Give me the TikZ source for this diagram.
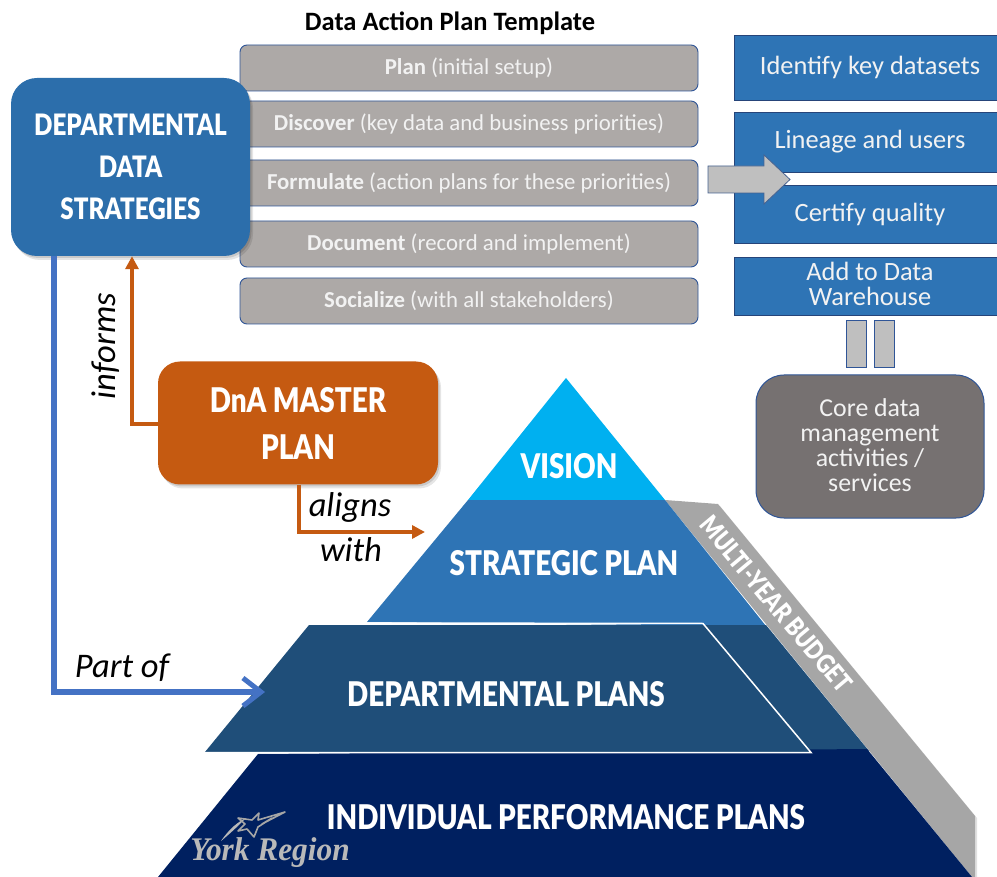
\documentclass[tikz,border=0pt]{standalone}
\usepackage{fontspec}
\setmainfont{Carlito}
\newfontfamily\hd[FakeStretch=0.82]{Lato Black}
\newfontfamily\logofont[FakeStretch=0.95]{Liberation Serif}
\usetikzlibrary{arrows.meta}
\definecolor{gbox}{HTML}{ADA9A7}
\definecolor{gline}{HTML}{2F5597}
\definecolor{bbox}{HTML}{2E74B5}
\definecolor{dbox}{HTML}{2C6EAB}
\definecolor{obox}{HTML}{C55A11}
\definecolor{cbox}{HTML}{767171}
\definecolor{lblue}{HTML}{4472C4}
\definecolor{pv}{HTML}{00B0F0}
\definecolor{ps}{HTML}{2E74B5}
\definecolor{pd}{HTML}{1F4E79}
\definecolor{pi}{HTML}{002060}
\definecolor{band}{HTML}{A6A6A6}
\definecolor{sarrow}{HTML}{BFBFBF}
\definecolor{softw}{HTML}{F2F2F2}
\tikzset{
  softshadow/.style={preaction={draw=none,fill=black,opacity=.10,transform canvas={shift={(3pt,-4pt)}}},
                     preaction={draw=none,fill=black,opacity=.12,transform canvas={shift={(1.5pt,-2pt)}}}},
  plan/.style={draw=gline,line width=.9pt,fill=gbox,rounded corners=7pt,minimum width=458pt,minimum height=46pt,inner sep=0pt,text=softw,font=\fontsize{22.8}{25}\selectfont},
  rect/.style={draw=gline!80!black,line width=.7pt,fill=bbox,minimum width=272pt,inner sep=0pt,text=softw,align=center,font=\fontsize{26.4}{25}\selectfont},
  bigbox/.style={fill=#1,rounded corners=24pt,inner sep=0pt,text=white,align=center,softshadow},
  pillar/.style={draw=gline,line width=1pt,fill=sarrow,minimum width=20pt,minimum height=47pt,inner sep=0pt},
  head/.style={text=white,font=\hd\fontsize{34}{42}\selectfont,inner sep=0pt},
  lab/.style={font=\itshape\fontsize{34.5}{36}\selectfont,text=black,inner sep=0pt},
  conn/.style={line width=#1,line join=miter},
}
\begin{document}
\begin{tikzpicture}[x=1pt,y=-1pt]
\useasboundingbox (0,0) rectangle (997,877);
\clip (0,0) rectangle (997,877);

% title
\node[inner sep=0pt,font=\bfseries\fontsize{26.5}{28}\selectfont] (title) at (450,23) {Data Action Plan Template};

% plan boxes
\node[plan] (p1) at (469,68) {\textbf{Plan} (initial setup)};
\node[plan] (p2) at (469,124) {\textbf{Discover} (key data and business  priorities)};
\node[plan] (p3) at (469,183) {\raisebox{-2pt}{\textbf{Formulate} (action plans for these priorities)}};
\node[plan] (p4) at (469,244) {\textbf{Document} (record and implement)};
\node[plan] (p5) at (469,301) {\textbf{Socialize} (with all stakeholders)};

% departmental box
\node[bigbox=dbox,minimum width=239pt,minimum height=178pt,rounded corners=26pt,font=\hd\fontsize{29.5}{42}\selectfont] (dept) at (130.5,167) {DEPARTMENTAL\\DATA\\STRATEGIES};

% right column
\node[rect,minimum height=65pt] (r1) at (870,67.5) {Identify key datasets};
\node[rect,minimum height=60pt] (r2) at (870,142) {Lineage and users};
\node[rect,minimum height=58pt] (r3) at (870,214) {Certify quality};
\node[rect,minimum height=58pt] (r4) at (870,286) {};
\node[inner sep=0pt,text=softw,align=center,font=\fontsize{26.4}{25}\selectfont] (r4t) at (870,284) {Add to Data\\Warehouse};

% block arrow
\draw[draw=gline!70!gray,line width=.8pt,fill=sarrow] (708,166) -- (764,166) -- (764,155) -- (790,179.5) -- (764,204) -- (764,193) -- (708,193) -- cycle;

% pillars and core box
\node[pillar] (s1) at (856,344.5) {};
\node[pillar] (s2) at (884,344.5) {};
\node[draw=gline,line width=1pt,fill=cbox,rounded corners=28pt,minimum width=228pt,minimum height=143pt,inner sep=0pt] (core) at (870,446.5) {};
\node[inner sep=0pt,text=softw,align=center,font=\fontsize{25.8}{25}\selectfont] (coret) at (870,445.5) {Core data\\management\\activities /\\services};

% pyramid
\fill[band,preaction={draw=none,fill=black,opacity=.12,transform canvas={shift={(2pt,-2pt)}}}] (665,500) -- (718,504) -- (975,816) -- (975,877) -- (972,877) -- cycle;
\fill[pv] (566,378) -- (665,500) -- (468,500) -- cycle;
\fill[ps] (468,500) -- (665,500) -- (766,626) -- (367,622) -- cycle;
\fill[pd] (340,625) -- (766,625) -- (869,751) -- (400,751) -- cycle;
\fill[pi] (258,754) -- (867,749) -- (972,877) -- (158,877) -- cycle;
\fill[pd] (309,625) -- (703,625) -- (810,752) -- (205,752) -- cycle;
\draw[white,line width=1.5pt] (367,623) -- (703,623.5) -- (811,752.5) -- (205,752.5);

\node[head] (vision) at (569,466) {VISION};
\node[head] (strat) at (564,563) {STRATEGIC PLAN};
\node[head] (dplan) at (506,694) {DEPARTMENTAL PLANS};
\node[head] (iplan) at (566,817) {INDIVIDUAL PERFORMANCE PLANS};
\node[inner sep=0pt,rotate=-50,text=white,font=\hd\fontsize{26}{27}\selectfont] (budget) at (776,604) {MULTI-YEAR BUDGET};

% logo
\fill[gray!55] (221,841) .. controls (230,828) and (238,822) .. (246,818) .. controls (240,824) and (232,832) .. (221,841) -- cycle;
\draw[gray!70,line width=1.6pt,line join=round] (238,818) -- (252,820) -- (259,813) -- (258,820) -- (285,812) -- (262,824) -- (272,818) -- (258,827) -- (254,837) -- (247,829) -- (238,831) -- (245,824) -- cycle;
\node[inner sep=0pt,text=gray!55,font=\logofont\bfseries\itshape\fontsize{33}{34}\selectfont] (logo) at (270,853) {York Region};

% master plan
\node[bigbox=obox,minimum width=280pt,minimum height=123pt,rounded corners=22pt,font=\hd\fontsize{34}{47}\selectfont] (master) at (298,423) {DnA MASTER\\PLAN};

% connectors
\coordinate (inf) at (132,424);
\coordinate (alg) at (299,532);
\coordinate (par) at (54,692);
\coordinate (alignend) at (425,532);
\coordinate (partend) at (265,692);
\draw[obox,conn=4pt,-{Triangle[length=13pt,width=13pt]}] (master.west |- inf) -- (inf) -- (inf |- dept.south);
\draw[obox,conn=4pt,-{Triangle[length=13pt,width=13pt]}] (alg |- master.south) -- (alg) -- (alignend);
\draw[lblue,conn=5.5pt,-{Straight Barb[length=18pt,width=28pt,line width=5pt]}] (par |- dept.south) -- (par) -- (partend);

% labels
\node[lab,rotate=90] (linf) at (106,346) {informs};
\node[lab] (lal) at (350,507) {aligns};
\node[lab] (lwi) at (351,550) {with};
\node[lab] (lpa) at (122,668) {Part of};
\end{tikzpicture}
\end{document}
